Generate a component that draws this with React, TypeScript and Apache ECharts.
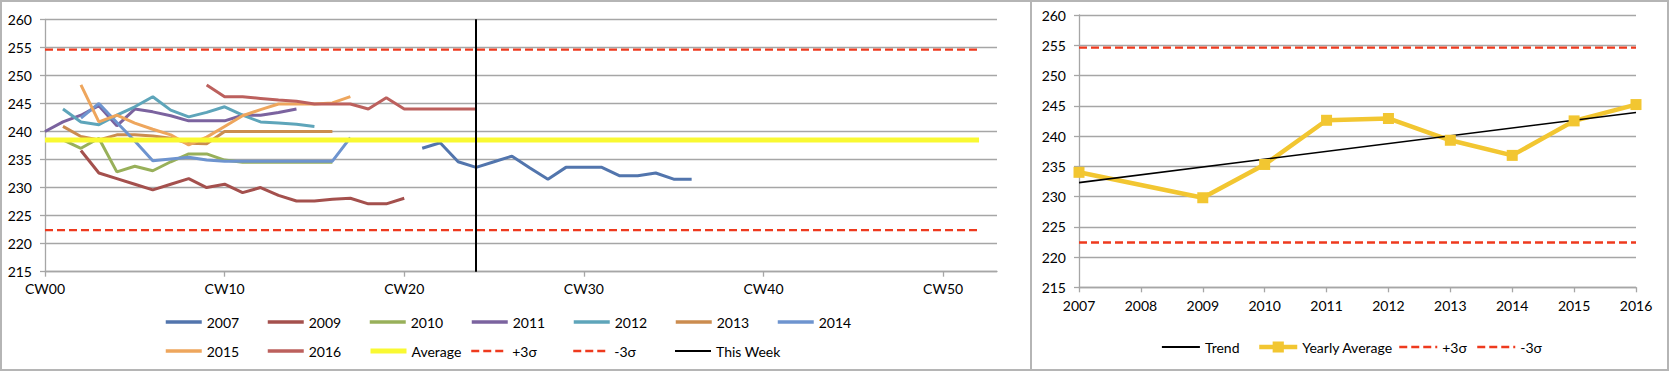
import React, { useEffect, useRef } from 'react';
import * as echarts from 'echarts';

// ---------- data: left panel (weekly values) ----------
const weeks = Array.from({ length: 54 }, (_, i) => 'CW' + String(i).padStart(2, '0'));
const thisWeek = 'CW24';

const yearNames = ['2007', '2009', '2010', '2011', '2012', '2013', '2014', '2015', '2016'];
const yearColors = ['#5275AD', '#A4504D', '#98B05A', '#7B639F', '#5EA5BA', '#CB8C4F', '#6E94CF', '#EEA65D', '#BC605D'];
const yearStartWeek = [21, 2, 1, 0, 1, 1, 2, 2, 9];

const w2007 = [237.0, 238.0, 234.6, 233.6, 234.6, 235.6, 233.5, 231.5, 233.6, 233.6, 233.6, 232.1, 232.1, 232.6, 231.5, 231.5];
const w2009 = [236.6, 232.6, 231.6, 230.6, 229.6, 230.6, 231.6, 230.0, 230.6, 229.1, 230.0, 228.6, 227.6, 227.6, 227.9, 228.1, 227.1, 227.1, 228.1];
const w2010 = [238.5, 237.0, 238.8, 232.8, 233.8, 233.0, 234.6, 236.0, 236.0, 234.9, 234.5, 234.5, 234.5, 234.5, 234.5, 234.5];
const w2011 = [240.0, 241.7, 242.9, 244.6, 241.0, 244.0, 243.5, 242.8, 241.9, 241.9, 241.9, 242.9, 242.9, 243.4, 244.0];
const w2012 = [244.0, 241.7, 241.2, 242.9, 244.4, 246.2, 243.8, 242.6, 243.4, 244.4, 242.9, 241.7, 241.5, 241.3, 240.9];
const w2013 = [240.9, 239.1, 238.5, 239.4, 239.4, 239.2, 238.8, 237.9, 237.8, 240.0, 240.0, 240.0, 240.0, 240.0, 240.0, 240.0];
const w2014 = [242.4, 245.0, 241.6, 238.3, 234.8, 235.1, 235.4, 234.9, 234.7, 234.7, 234.7, 234.7, 234.7, 234.7, 234.7, 238.9];
const w2015 = [248.3, 241.7, 242.9, 241.5, 240.4, 239.4, 237.6, 239.0, 240.9, 242.8, 243.9, 244.9, 244.9, 244.9, 245.1, 246.2];
const w2016 = [248.3, 246.2, 246.2, 245.9, 245.6, 245.4, 244.9, 244.9, 244.9, 244.0, 246.0, 244.0, 244.0, 244.0, 244.0, 244.0];
const weeklyValues = [w2007, w2009, w2010, w2011, w2012, w2013, w2014, w2015, w2016];

const averageLevel = 238.5;
const plus3Sigma = 254.6;
const minus3Sigma = 222.4;
const referenceSpan = [0, 52]; // first and last week of the reference lines

// ---------- data: right panel (yearly) ----------
const years = ['2007', '2008', '2009', '2010', '2011', '2012', '2013', '2014', '2015', '2016'];
const yearlyAverage = [234.0, null, 229.8, 235.3, 242.6, 242.9, 239.3, 236.8, 242.5, 245.2];
const trendValues = [232.3, null, null, null, null, null, null, null, null, 243.9];

// ---------- styles ----------
const FONT = 'Lato';
const FONT_SIZE = 14;
const GRID_COLOR = '#A6A6A6';
const YELLOW = '#F9F932';
const SIGMA_RED = '#EE3A1E';
const GOLD = '#F2C631';
const SIGMA_DASH = [8, 4];

function valueAxis(gridIndex: number) {
  return {
    type: 'value',
    gridIndex,
    min: 215,
    max: 260,
    interval: 5,
    axisLine: { show: true, lineStyle: { color: GRID_COLOR, width: 1.3 } },
    axisTick: { show: true, length: 5, lineStyle: { color: GRID_COLOR, width: 1.3 } },
    axisLabel: { color: '#000', fontFamily: FONT, fontSize: FONT_SIZE, margin: 13 },
    splitLine: { show: true, lineStyle: { color: GRID_COLOR, width: 1.3 } },
  };
}

export default function App() {
  const ref = useRef<HTMLDivElement>(null);

  useEffect(() => {
    document.body.style.margin = '0';
    if (!ref.current) return;
    const chart = echarts.init(ref.current, null, { renderer: 'svg' });

    const leftSeries: any[] = yearNames.map((name, i) => ({
      type: 'line',
      name,
      xAxisIndex: 0,
      yAxisIndex: 0,
      symbol: 'none',
      data: weeklyValues[i].map((v, k) => [yearStartWeek[i] + k, v]),
      lineStyle: { color: yearColors[i], width: 3 },
      itemStyle: { color: yearColors[i] },
    }));
    leftSeries.push(
      {
        type: 'line', name: 'Average', xAxisIndex: 0, yAxisIndex: 0, symbol: 'none',
        data: referenceSpan.map((w) => [w, averageLevel]),
        lineStyle: { color: YELLOW, width: 5 }, itemStyle: { color: YELLOW },
      },
      {
        type: 'line', name: '+3σ', xAxisIndex: 0, yAxisIndex: 0, symbol: 'none',
        data: referenceSpan.map((w) => [w, plus3Sigma]),
        lineStyle: { color: SIGMA_RED, width: 2.3, type: SIGMA_DASH }, itemStyle: { color: SIGMA_RED },
      },
      {
        type: 'line', name: '-3σ', xAxisIndex: 0, yAxisIndex: 0, symbol: 'none',
        data: referenceSpan.map((w) => [w, minus3Sigma]),
        lineStyle: { color: SIGMA_RED, width: 2.3, type: SIGMA_DASH }, itemStyle: { color: SIGMA_RED },
      },
      {
        type: 'line', name: 'This Week', xAxisIndex: 0, yAxisIndex: 0, symbol: 'none',
        data: [],
        lineStyle: { color: '#000', width: 2 }, itemStyle: { color: '#000' },
        markLine: {
          silent: true, symbol: 'none', label: { show: false },
          lineStyle: { color: '#000', width: 2, type: 'solid' },
          data: [{ xAxis: thisWeek }],
        },
      }
    );

    const rightSeries: any[] = [
      {
        type: 'line', name: 'Yearly Average', xAxisIndex: 1, yAxisIndex: 1,
        data: yearlyAverage, connectNulls: true, symbol: 'rect', symbolSize: 11,
        lineStyle: { color: GOLD, width: 4.5 }, itemStyle: { color: GOLD },
      },
      {
        type: 'line', name: 'Trend', xAxisIndex: 1, yAxisIndex: 1,
        data: trendValues, connectNulls: true, symbol: 'none',
        lineStyle: { color: '#000', width: 1.6 }, itemStyle: { color: '#000' },
      },
      {
        type: 'line', name: '+3σ', xAxisIndex: 1, yAxisIndex: 1, symbol: 'none',
        data: [[0, plus3Sigma], [years.length - 1, plus3Sigma]],
        lineStyle: { color: SIGMA_RED, width: 2.3, type: SIGMA_DASH }, itemStyle: { color: SIGMA_RED },
      },
      {
        type: 'line', name: '-3σ', xAxisIndex: 1, yAxisIndex: 1, symbol: 'none',
        data: [[0, minus3Sigma], [years.length - 1, minus3Sigma]],
        lineStyle: { color: SIGMA_RED, width: 2.3, type: SIGMA_DASH }, itemStyle: { color: SIGMA_RED },
      },
    ];

    // legends, one per item so that columns line up like the original
    const leftRows = [
      ['2007', '2009', '2010', '2011', '2012', '2013', '2014'],
      ['2015', '2016', 'Average', '+3σ', '-3σ', 'This Week'],
    ];
    const lineWidthFor: Record<string, number> = { Average: 5, '+3σ': 2.5, '-3σ': 2.5, 'This Week': 2 };
    const legends: any[] = [];
    leftRows.forEach((row, r) => {
      row.forEach((name, c) => {
        legends.push({
          data: [name],
          left: 164 + c * 102,
          top: r === 0 ? 315 : 344,
          padding: 0,
          itemWidth: 36,
          itemHeight: 14,
          lineStyle: { width: lineWidthFor[name] ?? 3.5 },
          itemStyle: { opacity: 0 },
          textStyle: { color: '#000', fontFamily: FONT, fontSize: FONT_SIZE },
        });
      });
    });
    const rightLegend = [
      { name: 'Trend', left: 1161, width: 1.8, marker: false },
      { name: 'Yearly Average', left: 1257, width: 4.5, marker: true },
      { name: '+3σ', left: 1398, width: 2.5, marker: false },
      { name: '-3σ', left: 1476, width: 2.5, marker: false },
    ];
    rightLegend.forEach((it) => {
      legends.push({
        data: [it.name],
        left: it.left,
        top: 340,
        padding: 0,
        itemWidth: 38,
        itemHeight: 14,
        lineStyle: { width: it.width },
        itemStyle: it.marker ? {} : { opacity: 0 },
        textStyle: { color: '#000', fontFamily: FONT, fontSize: FONT_SIZE },
      });
    });

    chart.setOption({
      animation: false,
      textStyle: { fontFamily: FONT },
      grid: [
        { left: 45, top: 19.3, width: 952, height: 252.4 },
        { left: 1079, top: 15, width: 557, height: 272.3 },
      ],
      xAxis: [
        {
          type: 'category', gridIndex: 0, data: weeks, boundaryGap: false,
          axisLine: { show: true, lineStyle: { color: GRID_COLOR, width: 1.3 } },
          axisTick: { show: true, interval: 9, length: 5, lineStyle: { color: GRID_COLOR, width: 1.3 } },
          axisLabel: { interval: 9, color: '#000', fontFamily: FONT, fontSize: FONT_SIZE, margin: 10 },
          splitLine: { show: false },
        },
        {
          type: 'category', gridIndex: 1, data: years, boundaryGap: false,
          axisLine: { show: true, lineStyle: { color: GRID_COLOR, width: 1.3 } },
          axisTick: { show: true, interval: 0, length: 5, lineStyle: { color: GRID_COLOR, width: 1.3 } },
          axisLabel: { interval: 0, color: '#000', fontFamily: FONT, fontSize: FONT_SIZE, margin: 11 },
          splitLine: { show: false },
        },
      ],
      yAxis: [valueAxis(0), valueAxis(1)],
      legend: legends,
      graphic: [
        { type: 'rect', shape: { x: 1, y: 1, width: 1030, height: 369 }, style: { fill: 'none', stroke: '#B5B5B5', lineWidth: 2 }, silent: true },
        { type: 'rect', shape: { x: 1031, y: 1, width: 637, height: 369 }, style: { fill: 'none', stroke: '#B5B5B5', lineWidth: 2 }, silent: true },
      ],
      series: [...leftSeries, ...rightSeries],
    });

    return () => chart.dispose();
  }, []);

  return <div ref={ref} style={{ width: 1669, height: 372, background: '#fff' }} />;
}
